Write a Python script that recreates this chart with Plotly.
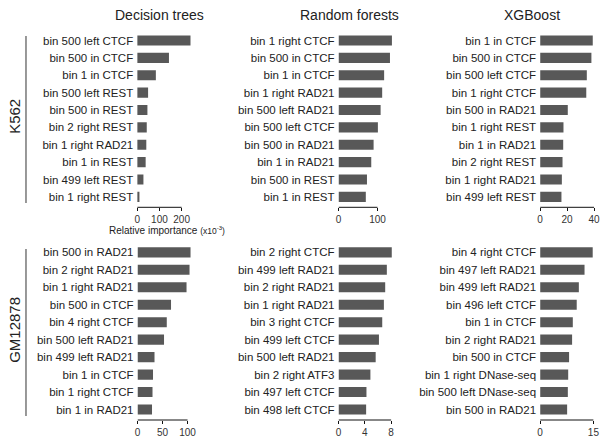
import plotly.graph_objects as go

W, H = 607, 443

# ---------------- data ----------------
dt_k562_labels = ["bin 500 left CTCF", "bin 500 in CTCF", "bin 1 in CTCF", "bin 500 left REST",
                  "bin 500 in REST", "bin 2 right REST", "bin 1 right RAD21", "bin 1 in REST",
                  "bin 499 left REST", "bin 1 right REST"]
dt_k562_values = [240, 143, 84, 49, 46, 43, 41, 38, 28, 10]

rf_k562_labels = ["bin 1 right CTCF", "bin 500 in CTCF", "bin 1 in CTCF", "bin 1 right RAD21",
                  "bin 500 left RAD21", "bin 500 left CTCF", "bin 500 in RAD21", "bin 1 in RAD21",
                  "bin 500 in REST", "bin 1 in REST"]
rf_k562_values = [137, 132, 117, 112, 108, 101, 90, 84, 73, 70]

xgb_k562_labels = ["bin 1 in CTCF", "bin 500 in CTCF", "bin 500 left CTCF", "bin 1 right CTCF",
                   "bin 500 in RAD21", "bin 1 right REST", "bin 1 in RAD21", "bin 2 right REST",
                   "bin 1 right RAD21", "bin 499 left REST"]
xgb_k562_values = [39, 38, 34.6, 34.2, 20.5, 17.3, 17.1, 16.6, 16.1, 15.8]

dt_gm_labels = ["bin 500 in RAD21", "bin 2 right RAD21", "bin 1 right RAD21", "bin 500 in CTCF",
                "bin 4 right CTCF", "bin 500 left RAD21", "bin 499 left RAD21", "bin 1 in CTCF",
                "bin 1 right CTCF", "bin 1 in RAD21"]
dt_gm_values = [106, 104, 98, 67, 58.5, 53, 34, 31, 30, 29]

rf_gm_labels = ["bin 2 right CTCF", "bin 499 left RAD21", "bin 2 right RAD21", "bin 1 right RAD21",
                "bin 3 right CTCF", "bin 499 left CTCF", "bin 500 left RAD21", "bin 2 right ATF3",
                "bin 497 left CTCF", "bin 498 left CTCF"]
rf_gm_values = [8.1, 7.35, 7.1, 6.9, 6.65, 6.15, 5.65, 4.85, 4.25, 4.2]

xgb_gm_labels = ["bin 4 right CTCF", "bin 497 left RAD21", "bin 499 left RAD21", "bin 496 left CTCF",
                 "bin 1 in CTCF", "bin 2 right RAD21", "bin 500 in CTCF", "bin 1 right DNase-seq",
                 "bin 500 left DNase-seq", "bin 500 in RAD21"]
xgb_gm_values = [14.8, 12.5, 10.9, 10.3, 9.2, 9.0, 8.15, 7.9, 7.8, 7.6]

tick_sets = [[0, 100, 200], [0, 100], [0, 20, 40], [0, 50, 100], [0, 4, 8], [0, 15]]
model_titles = ["Decision trees", "Random forests", "XGBoost"]
cell_lines = ["K562", "GM12878"]

panels = [
    (dt_k562_labels, dt_k562_values),
    (rf_k562_labels, rf_k562_values),
    (xgb_k562_labels, xgb_k562_values),
    (dt_gm_labels, dt_gm_values),
    (rf_gm_labels, rf_gm_values),
    (xgb_gm_labels, xgb_gm_values),
]

# ---------------- layout geometry (pixels) ----------------
# pixel span of the drawn axis line (0 .. last tick)
x_px = [(136, 181), (340, 379.5), (544.3, 599), (136.3, 187), (340, 393.3), (544.3, 598.3)]
row_px = [(31.8, 207.3), (243.6, 420)]

BAR = "#585858"
FONT = "Liberation Sans, Arial, sans-serif"

fig = go.Figure()
layout = dict(
    width=W, height=H, margin=dict(l=0, r=0, t=0, b=0),
    paper_bgcolor="white", plot_bgcolor="rgba(0,0,0,0)",
    showlegend=False, bargap=0.42,
    font=dict(family=FONT, color="#222222"),
)

shapes = []
for i, ((labels, vals), ticks) in enumerate(zip(panels, tick_sets)):
    n = i + 1
    xa = "x" if n == 1 else f"x{n}"
    ya = "y" if n == 1 else f"y{n}"
    fig.add_trace(go.Bar(
        x=vals, y=labels, orientation="h", marker=dict(color=BAR, line=dict(width=0)),
        xaxis=xa, yaxis=ya, hoverinfo="x+y",
    ))
    x0, x1 = x_px[i]
    top, bot = row_px[i // 3]
    ppu = (x1 - x0) / ticks[-1]
    rmax = max(ticks[-1], max(vals)) * 1.0 + 0.5 / ppu
    x_end = min(x0 + rmax * ppu, W)
    rmax = (x_end - x0) / ppu
    layout[f"xaxis{n if n > 1 else ''}"] = dict(
        domain=[x0 / W, x_end / W], range=[0, rmax], anchor=ya,
        showgrid=False, zeroline=False, showline=False,
        ticks="outside", ticklen=3, tickcolor="#111111", tickwidth=1,
        tickvals=ticks, tickfont=dict(size=10, color="#333333", family=FONT),
        fixedrange=True,
    )
    layout[f"yaxis{n if n > 1 else ''}"] = dict(
        domain=[1 - bot / H, 1 - top / H], anchor=xa,
        type="category", categoryorder="array", categoryarray=labels,
        range=[len(labels) - 1 + 0.6, -0.5],
        showgrid=False, zeroline=False, showline=False, ticks="",
        ticklabelstandoff=3,
        tickfont=dict(size=11.5, color="#222222", family=FONT),
        fixedrange=True,
    )
    # axis line spanning only 0 .. last tick
    shapes.append(dict(type="line", xref=xa, yref="paper",
                       x0=0, x1=ticks[-1], y0=1 - bot / H, y1=1 - bot / H,
                       line=dict(color="#111111", width=1)))

layout["shapes"] = shapes
fig.update_layout(**layout)

# column titles
title_x = [159, 351, 536]
for t, x in zip(model_titles, title_x):
    fig.add_annotation(text=t, x=x / W, y=1 - 15 / H, xref="paper", yref="paper",
                       showarrow=False, xanchor="center", yanchor="middle",
                       font=dict(size=14, color="#222222", family=FONT))

# row labels with vertical lines
row_line = [(36, 203), (249, 416)]
for name, (a, b) in zip(cell_lines, row_line):
    fig.add_annotation(text=name, x=11.5 / W, y=1 - ((a + b) / 2 - 3) / H, xref="paper", yref="paper",
                       showarrow=False, textangle=-90, xanchor="center", yanchor="middle",
                       font=dict(size=15, color="#222222", family=FONT))
    fig.add_shape(type="line", xref="paper", yref="paper",
                  x0=23.3 / W, x1=23.3 / W, y0=1 - a / H, y1=1 - b / H,
                  line=dict(color="#333333", width=1))

# axis caption
fig.add_annotation(text="Relative importance <span style='font-size:8.5px'>(x10<sup>-3</sup>)</span>",
                   x=166 / W, y=1 - 230.5 / H, xref="paper", yref="paper",
                   showarrow=False, xanchor="center", yanchor="middle",
                   font=dict(size=10, color="#222222", family=FONT))

fig.write_html("out.html")
